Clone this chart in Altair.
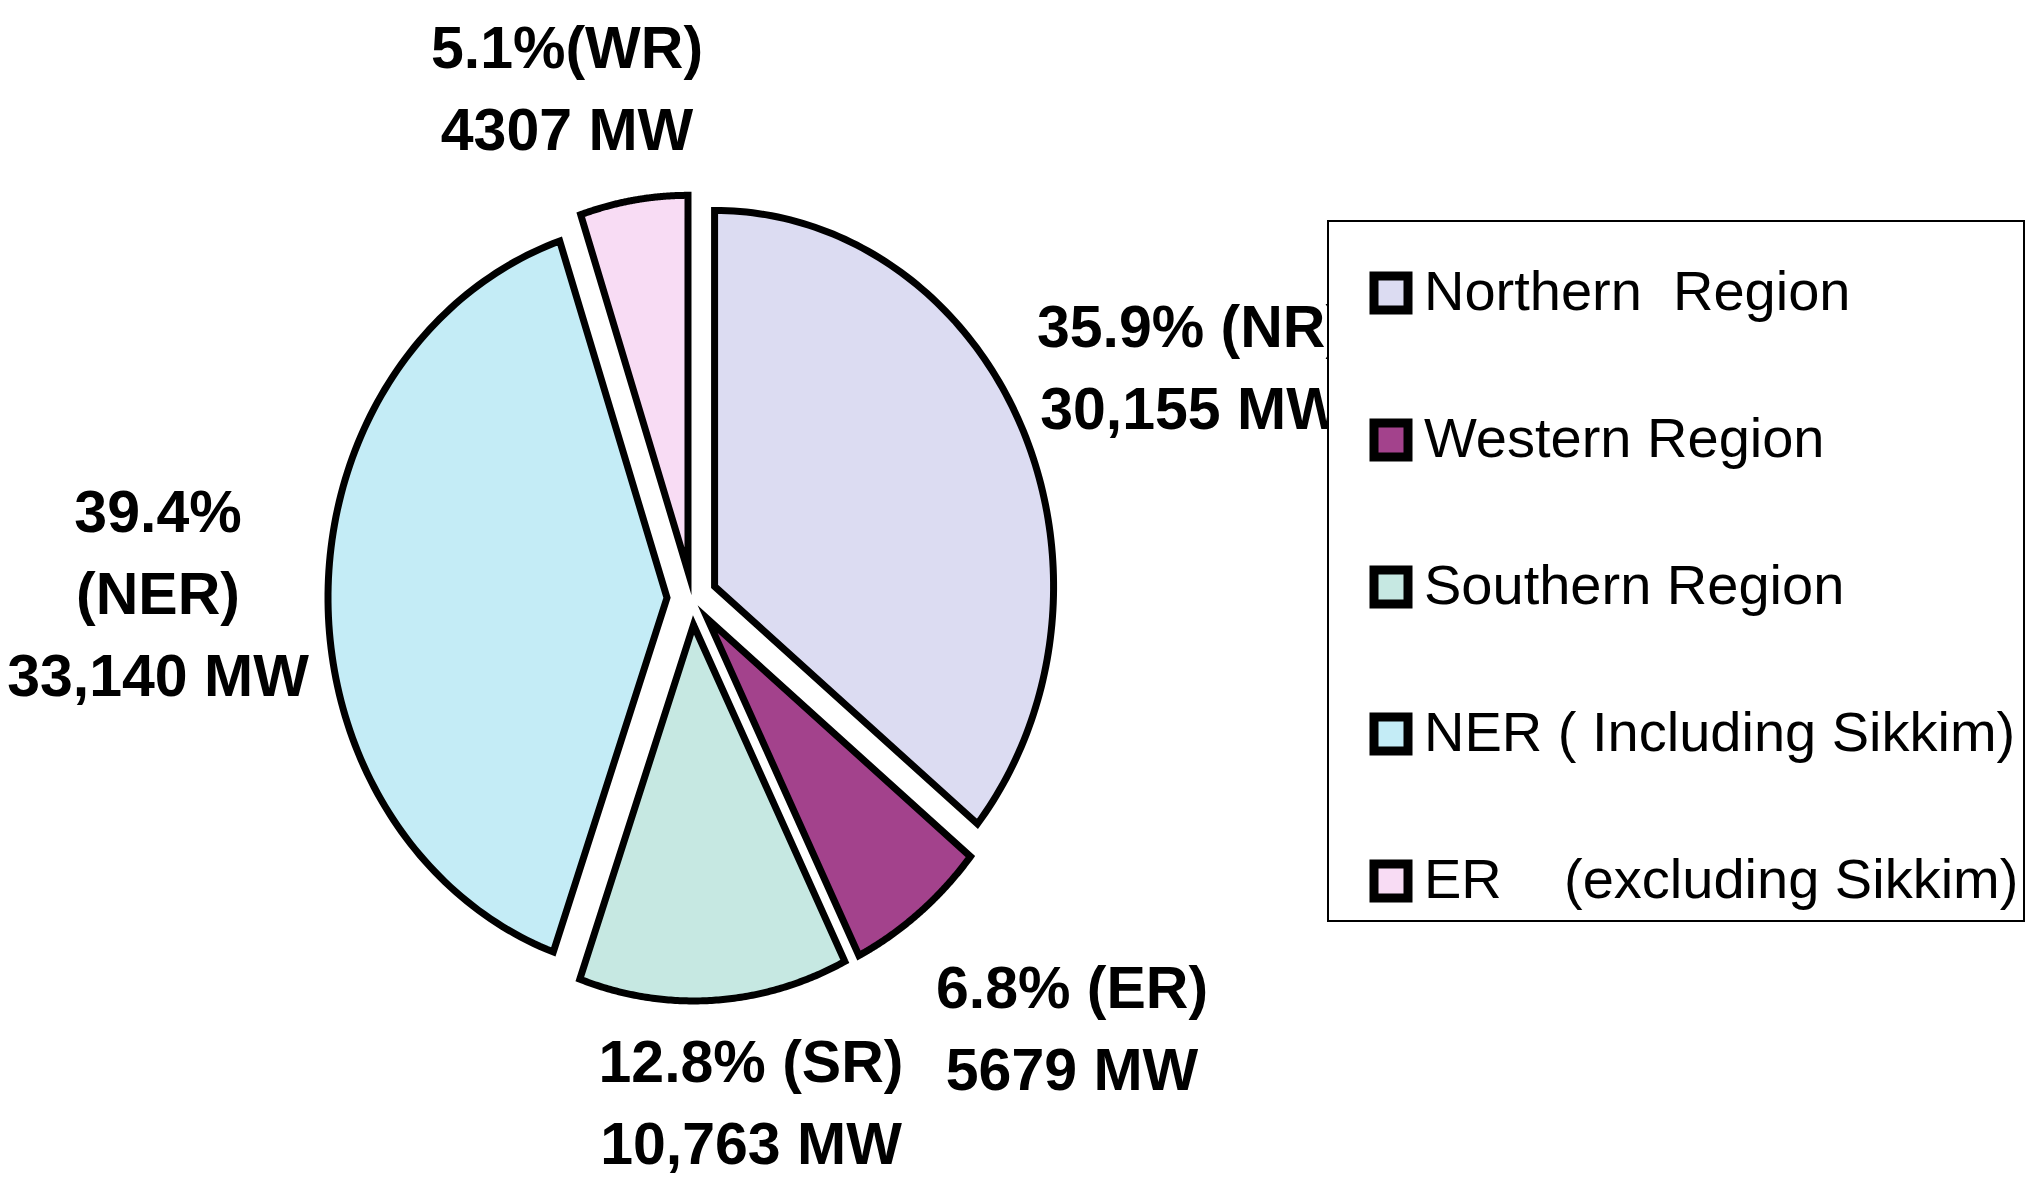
import altair as alt
import pandas as pd

# ---------------- data ----------------
regions = [
    "Northern\u00a0\u00a0Region",
    "Western Region",
    "Southern Region",
    "NER ( Including Sikkim)",
    "ER\u00a0\u00a0\u00a0\u00a0(excluding Sikkim)",
]
capacity_mw = [30155, 5679, 10763, 33140, 4307]
slice_colors = ["#dcdcf2", "#a3428c", "#c6e8e2", "#c4ecf6", "#f8dcf4"]
label_lines = [
    ["35.9% (NR)", "30,155 MW"],
    ["6.8% (ER)", "5679 MW"],
    ["12.8% (SR)", "10,763 MW"],
    ["39.4%", "(NER)", "33,140 MW"],
    ["5.1%(WR)", "4307 MW"],
]

# ---------------- layout (pixels) ----------------
W, H = 2019, 1168          # plot area
CX, CY = 684, 590          # pie centre inside plot area
RX, RY = 339, 376          # pie radii (the original is slightly stretched vertically)
EX, EY = 25, 27            # explode distance
N_ARC = 120
# label anchors relative to pie centre (x right, y up), first-line baseline
label_anchor = [(499, 251), (380, -410), (59, -484), (-534, 66), (-125, 530)]

total = sum(capacity_mw)

# polygon skeleton for each exploded slice (angles computed by Vega-Lite)
rows = []
cum = 0
for r, v in zip(regions, capacity_mw):
    start, end = cum, cum + v
    cum = end
    base = dict(region=r, value=v, start=start, end=end)
    rows.append({**base, "seq": 0, "t": 0.0, "apex": 1})
    for k in range(N_ARC + 1):
        rows.append({**base, "seq": k + 1, "t": k / N_ARC, "apex": 0})
    rows.append({**base, "seq": N_ARC + 2, "t": 0.0, "apex": 1})
    rows.append({**base, "seq": N_ARC + 3, "t": 0.0, "apex": 0})
pie_df = pd.DataFrame(rows)

label_df = pd.DataFrame({
    "text": ["\n".join(l) for l in label_lines],
    "lx": [a[0] for a in label_anchor],
    "ly": [a[1] for a in label_anchor],
})

xs = alt.Scale(domain=[-CX, W - CX], nice=False, zero=False)
ys = alt.Scale(domain=[CY - H, CY], nice=False, zero=False)

pie = (
    alt.Chart(pie_df)
    .transform_calculate(
        theta=f"2*PI*(datum.start + (datum.end - datum.start)*datum.t)/{total}",
        mid=f"PI*(datum.start + datum.end)/{total}",
    )
    .transform_calculate(
        px=f"{EX}*sin(datum.mid) + (1 - datum.apex)*{RX}*sin(datum.theta)",
        py=f"{EY}*cos(datum.mid) + (1 - datum.apex)*{RY}*cos(datum.theta)",
    )
    .mark_line(stroke="black", strokeWidth=7, strokeJoin="miter", strokeMiterLimit=10, interpolate="linear")
    .encode(
        x=alt.X("px:Q", scale=xs, axis=None),
        y=alt.Y("py:Q", scale=ys, axis=None),
        order=alt.Order("seq:Q"),
        fill=alt.Fill(
            "region:N",
            sort=regions,
            scale=alt.Scale(domain=regions, range=slice_colors),
            legend=alt.Legend(
                orient="none",
                legendX=1320,
                legendY=213,
                title="\u00a0",
                titleFontSize=10,
                titlePadding=29,
                padding=5,
                symbolType="square",
                symbolSize=1156,
                symbolStrokeColor="black",
                symbolStrokeWidth=9,
                symbolOffset=30,
                labelFont="Liberation Sans",
                labelFontSize=56,
                labelColor="black",
                labelOffset=5,
                labelLimit=0,
                rowPadding=77,
                strokeColor="black",
                fillColor="white",
            ),
        ),
    )
)

labels = (
    alt.Chart(label_df)
    .mark_text(
        font="Liberation Sans",
        fontWeight="bold",
        fontSize=59,
        lineHeight=82,
        lineBreak="\n",
        align="center",
        baseline="alphabetic",
        color="black",
    )
    .encode(
        x=alt.X("lx:Q", scale=xs, axis=None),
        y=alt.Y("ly:Q", scale=ys, axis=None),
        text="text:N",
    )
)

chart = (
    alt.layer(pie, labels)
    .properties(width=W, height=H, padding=0, autosize=alt.AutoSizeParams(type="none"))
    .configure_view(strokeWidth=0)
    .configure_legend(strokeWidth=2)
)

chart.save("out.html", embed_options={"renderer": "svg", "actions": False})
